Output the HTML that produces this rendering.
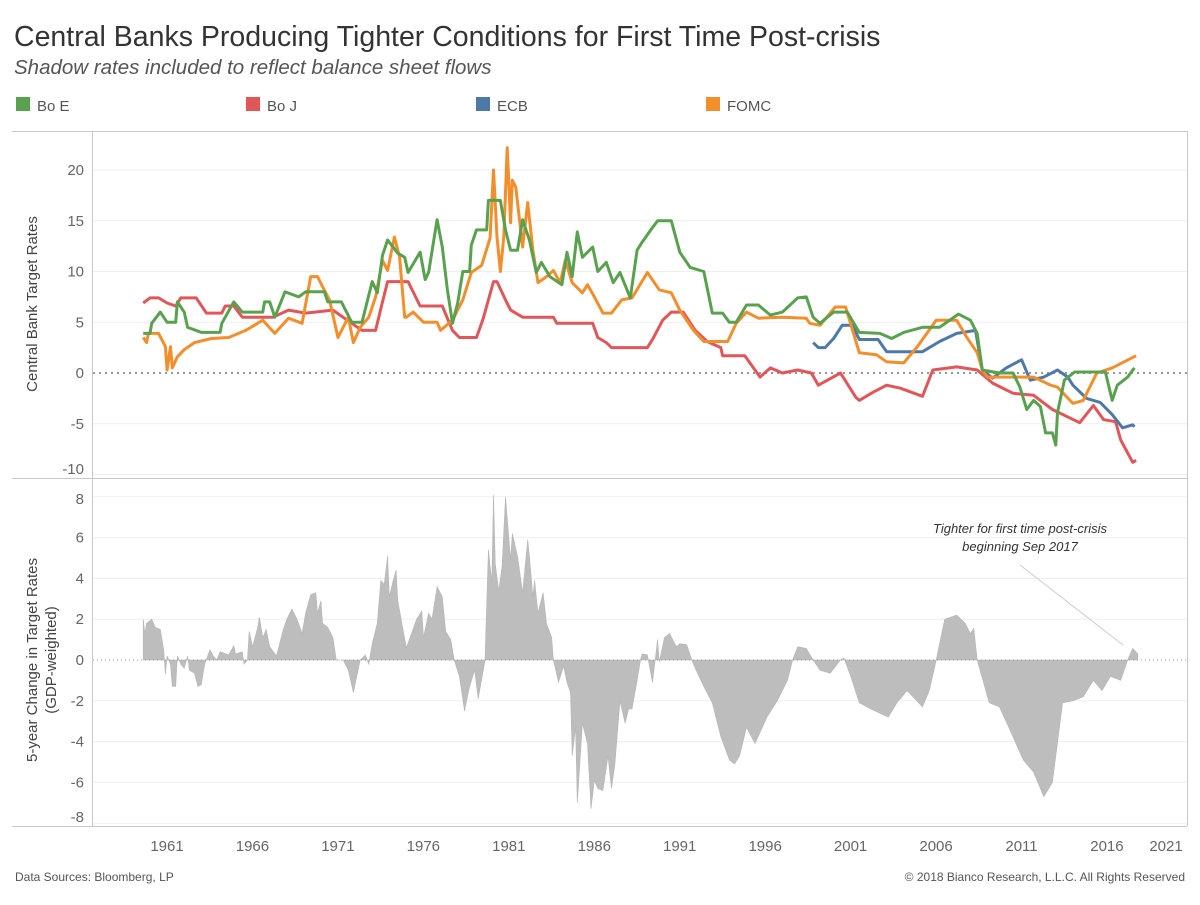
<!DOCTYPE html>
<html><head><meta charset="utf-8">
<style>
html,body{margin:0;padding:0;background:#fff;}
body{width:1200px;height:900px;overflow:hidden;font-family:"Liberation Sans","DejaVu Sans",sans-serif;}
</style></head>
<body>
<svg id="chart" width="1200" height="900" xmlns="http://www.w3.org/2000/svg" font-family="Liberation Sans, DejaVu Sans, sans-serif">
<text x="14" y="46" font-size="28.5" fill="#333">Central Banks Producing Tighter Conditions for First Time Post-crisis</text>
<text x="14" y="74" font-size="20.5" font-style="italic" fill="#555">Shadow rates included to reflect balance sheet flows</text>
<g font-size="15" fill="#555">
 <g><rect x="16" y="97" width="14" height="14" fill="#59a14f"/><text x="37" y="111">Bo E</text></g>
 <g><rect x="246" y="97" width="14" height="14" fill="#e15759"/><text x="267" y="111">Bo J</text></g>
 <g><rect x="476" y="97" width="14" height="14" fill="#4e79a7"/><text x="497" y="111">ECB</text></g>
 <g><rect x="706" y="97" width="14" height="14" fill="#f28e2b"/><text x="727" y="111">FOMC</text></g>
</g>
<g id="grid"></g>
<g id="marks"></g>
<g id="frame" stroke="#c8c8c8" stroke-width="1" fill="none">
 <line x1="12" y1="131.5" x2="1187" y2="131.5"/>
 <line x1="12" y1="478.5" x2="1187" y2="478.5"/>
 <line x1="12" y1="826.5" x2="1187" y2="826.5"/>
 <line x1="92.5" y1="131" x2="92.5" y2="826"/>
 <line x1="1187.5" y1="131" x2="1187.5" y2="826"/>
</g>
<g id="axes" font-size="15" fill="#666"></g>
<text transform="translate(37,304) rotate(-90)" text-anchor="middle" font-size="15" fill="#444">Central Bank Target Rates</text>
<text transform="translate(37,660) rotate(-90)" text-anchor="middle" font-size="15" fill="#444">5-year Change in Target Rates</text>
<text transform="translate(56,660) rotate(-90)" text-anchor="middle" font-size="15" fill="#444">(GDP-weighted)</text>
<g font-size="13" font-style="italic" fill="#333" text-anchor="middle">
 <text x="1020" y="533">Tighter for first time post-crisis</text>
 <text x="1020" y="551">beginning Sep 2017</text>
 <line x1="1020" y1="565" x2="1123" y2="645" stroke="#ccc" stroke-width="1"/>
</g>
<text x="15" y="881" font-size="12" fill="#555">Data Sources: Bloomberg, LP</text>
<text x="1185" y="881" font-size="12" fill="#555" text-anchor="end">© 2018 Bianco Research, L.L.C. All Rights Reserved</text>
</svg>
<script>
const xTicks=[1961,1966,1971,1976,1981,1986,1991,1996,2001,2006,2011,2016,2021];
const topTicks=[20,15,10,5,0,-5,-10];
const botTicks=[8,6,4,2,0,-2,-4,-6,-8];

const boeYears=[1959.9,1960.3,1960.4,1960.9,1961.3,1961.8,1961.9,1962.3,1962.5,1963.3,1964.4,1964.5,1965.2,1965.7,1966.9,1967.0,1967.3,1967.6,1968.2,1969.0,1969.4,1970.5,1970.7,1971.5,1972.1,1972.7,1973.0,1973.3,1973.6,1973.9,1974.2,1974.8,1975.2,1975.4,1976.1,1976.4,1976.6,1977.1,1977.4,1977.7,1978.0,1978.3,1978.6,1979.0,1979.1,1979.4,1980.0,1980.1,1980.8,1980.9,1981.1,1981.4,1981.8,1982.1,1982.5,1982.9,1983.2,1983.7,1984.4,1984.7,1985.0,1985.3,1985.6,1986.2,1986.5,1987.0,1987.4,1987.8,1988.4,1988.8,1989.1,1989.6,1990.0,1990.8,1991.3,1991.9,1992.7,1993.2,1993.8,1994.2,1994.6,1995.2,1995.9,1996.6,1997.3,1998.2,1998.7,1999.1,1999.5,2000.3,2001.1,2001.8,2003.0,2003.7,2004.4,2005.5,2006.5,2007.6,2008.3,2008.7,2009.0,2010.0,2010.8,2011.2,2011.6,2012.0,2012.4,2012.7,2013.1,2013.3,2013.4,2013.8,2014.4,2016.2,2016.6,2016.9,2017.5,2017.9];
const boeValues=[3.9,3.9,4.9,6.0,5.0,5.0,7.0,6.0,4.5,4.0,4.0,4.9,7.0,6.0,6.0,7.0,7.0,5.5,8.0,7.5,8.0,8.0,7.0,7.0,5.0,5.0,7.0,9.0,7.9,11.6,13.1,11.8,11.4,9.9,11.9,9.2,9.9,15.1,12.4,8.2,4.9,6.9,10,10,12.6,14.1,14.1,17,17,16,14.1,12.1,12.1,15.1,13.1,9.9,10.9,9.5,8.7,11.9,9.5,13.9,11.4,12.4,10,10.9,8.9,9.9,7.4,12.1,12.9,14.1,15,15,11.9,10.4,10,5.9,5.9,5,5,6.7,6.7,5.7,6,7.4,7.5,5.5,4.9,6,6,4,3.9,3.4,4,4.5,4.5,5.8,5.2,3.9,0.3,0,0,-1.4,-3.6,-2.7,-3.3,-5.9,-5.9,-7.1,-3.9,-0.7,0.1,0.1,-2.7,-1.2,-0.4,0.5];

const bojYears=[1959.9,1960.3,1960.8,1961.3,1961.8,1962.1,1963.0,1963.6,1964.5,1964.7,1965.2,1965.7,1967.5,1968.4,1969.4,1971.0,1972.1,1972.7,1973.5,1973.9,1974.2,1975.4,1976.1,1977.4,1978.0,1978.4,1979.4,1979.8,1980.4,1980.6,1981.1,1981.4,1982.1,1983.9,1984.1,1986.2,1986.5,1987.0,1987.3,1989.4,1989.7,1990.3,1990.8,1991.5,1992.2,1992.9,1993.7,1993.8,1995.1,1996.0,1996.6,1997.3,1998.2,1999.0,1999.4,2000.7,2001.6,2001.8,2002.6,2003.4,2004.2,2005.5,2006.1,2007.5,2008.7,2009.6,2010.8,2012.0,2013.1,2014.7,2015.5,2016.1,2016.8,2017.1,2017.8,2018.0];
const bojValues=[6.9,7.4,7.4,6.9,6.6,7.4,7.4,5.9,5.9,6.6,6.6,5.5,5.5,6.2,5.9,6.2,4.9,4.2,4.2,7,9,9,6.6,6.6,4.2,3.5,3.5,5.4,9,9,7.2,6.2,5.5,5.5,4.9,4.9,3.5,3,2.5,2.5,3.3,5.2,6,6,4.2,3.1,2.5,1.7,1.7,-0.4,0.5,0,0.3,0,-1.2,0,-2.4,-2.7,-1.9,-1.2,-1.5,-2.3,0.3,0.6,0.3,-1,-2,-2.2,-3.6,-4.9,-3.2,-4.6,-4.8,-6.6,-8.8,-8.6];

const ecbYears=[1999.1,1999.4,1999.8,2000.3,2000.8,2001.4,2001.8,2002.9,2003.4,2005.5,2006.5,2007.5,2008.6,2009.0,2009.6,2010.4,2011.3,2011.8,2012.6,2013.4,2014.0,2014.3,2015.1,2015.9,2016.6,2017.2,2017.8,2017.9];
const ecbValues=[3.0,2.5,2.5,3.4,4.7,4.7,3.3,3.3,2.1,2.1,3.1,3.9,4.2,0.3,-0.5,0.5,1.3,-0.7,-0.4,0.3,-0.4,-1.2,-2.5,-2.9,-4.1,-5.4,-5.1,-5.3];

const fomcYears=[1959.9,1960.1,1960.2,1960.8,1961.2,1961.3,1961.5,1961.6,1961.9,1962.3,1962.9,1963.9,1964.9,1965.9,1966.9,1967.6,1968.4,1969.2,1969.7,1970.1,1970.4,1970.8,1971.3,1971.9,1972.2,1972.6,1973.1,1973.5,1973.9,1974.2,1974.6,1974.9,1975.2,1975.3,1975.7,1976.3,1977.1,1977.3,1978.0,1978.6,1979.1,1979.7,1980.2,1980.4,1980.6,1980.8,1981.0,1981.2,1981.4,1981.5,1981.7,1982.1,1982.4,1982.7,1983.0,1983.5,1983.9,1984.3,1984.6,1985.0,1985.6,1985.9,1986.3,1986.8,1987.3,1987.9,1988.5,1989.4,1990.1,1990.8,1991.3,1992.1,1992.7,1994.1,1994.6,1995.2,1995.9,1997.3,1998.7,1998.9,1999.5,2000.4,2001.0,2001.8,2002.8,2003.4,2004.4,2005.2,2006.3,2007.5,2008.1,2008.7,2009.0,2009.3,2012.0,2013.0,2013.4,2014.3,2014.9,2015.7,2016.6,2018.0];
const fomcValues=[3.5,3,3.9,3.9,2.6,0.3,2.6,0.5,1.6,2.3,3,3.4,3.5,4.2,5.2,3.9,5.4,4.9,9.5,9.5,8.5,7.2,3.5,5.5,3,4.5,5.5,7.5,11.1,10.1,13.4,11.4,5.5,5.5,6,5,5,4.2,5.2,7.2,9.9,10.6,13.3,20,13.4,10,13.4,22.2,14.8,19,18.3,12.4,16.8,12.1,8.9,9.5,10.1,8.9,11.1,8.9,7.9,8.7,7.5,5.9,5.9,7.2,7.4,9.9,8.2,7.9,6.2,4.2,3.1,3.1,4.9,6,5.4,5.5,5.4,4.9,4.7,6.5,6.5,2,1.8,1.1,1,2.6,5.2,5.2,3.5,2,0.3,-0.4,-0.4,-1.2,-1.4,-3,-2.7,0,0.5,1.7];

const chgYears=[1959.9,1959.9,1960.0,1960.1,1960.4,1960.6,1960.9,1961.1,1961.2,1961.3,1961.5,1961.6,1961.8,1961.9,1962.1,1962.3,1962.5,1962.6,1962.9,1963.1,1963.3,1963.5,1963.8,1964.0,1964.2,1964.4,1964.9,1965.2,1965.3,1965.7,1965.8,1966.0,1966.1,1966.3,1966.6,1966.7,1966.9,1967.1,1967.3,1967.7,1968.1,1968.3,1968.6,1968.9,1969.2,1969.4,1969.7,1970.0,1970.1,1970.3,1970.4,1970.7,1971.0,1971.2,1971.6,1971.9,1972.2,1972.6,1972.9,1973.1,1973.3,1973.6,1973.8,1974.0,1974.2,1974.3,1974.5,1974.7,1974.8,1975.1,1975.3,1975.6,1975.9,1976.2,1976.3,1976.6,1976.8,1977.1,1977.4,1977.6,1977.9,1978.1,1978.4,1978.7,1979.0,1979.3,1979.5,1979.8,1979.9,1980.1,1980.3,1980.4,1980.5,1980.7,1980.9,1981.1,1981.4,1981.5,1981.8,1982.1,1982.4,1982.5,1982.7,1982.8,1983.0,1983.3,1983.5,1983.8,1983.9,1984.2,1984.5,1984.7,1984.9,1985.0,1985.2,1985.3,1985.6,1985.9,1986.1,1986.3,1986.5,1986.8,1987.1,1987.3,1987.5,1987.8,1988.1,1988.3,1988.5,1988.8,1989.0,1989.1,1989.4,1989.7,1990.0,1990.1,1990.4,1990.7,1991.1,1991.3,1991.7,1992.0,1992.2,1992.7,1993.2,1993.7,1994.2,1994.5,1994.8,1995.2,1995.7,1996.4,1997.0,1997.6,1997.9,1998.2,1998.7,1999.1,1999.5,2000.1,2000.7,2000.9,2001.3,2001.8,2002.6,2003.5,2004.0,2004.6,2005.5,2005.9,2006.3,2006.8,2007.5,2008.0,2008.3,2008.5,2008.7,2009.4,2010.0,2010.6,2011.4,2012.0,2012.6,2013.1,2013.7,2014.3,2014.9,2015.5,2016.0,2016.5,2017.1,2017.5,2017.8,2018.1,2018.1];
const chgValues=[0,2.0,1.3,1.8,2.0,1.6,1.5,0.5,-0.7,0.2,-0.2,-1.3,-1.3,0.2,-0.2,-0.4,0.2,-0.5,-0.65,-1.3,-1.2,-0.2,0.5,0.2,0,0.4,0.25,0.7,0.3,0.4,-0.2,0,1.4,0.65,1.6,2.1,1.1,1.5,0.65,0.2,1.5,2.0,2.5,2.0,1.3,2.3,3.2,3.3,2.3,2.9,1.8,1.6,1.1,0,0,-0.5,-1.6,0,0.25,-0.2,0.8,1.8,3.9,3.7,5.1,3.1,3.8,4.4,2.9,1.5,0.6,1.3,2.0,2.4,1.1,2.3,2.0,3.6,3.1,1.4,1.0,0,-0.8,-2.5,-1.3,-0.5,-1.9,-0.5,0,5.4,3.8,8.1,4.7,3.4,4.6,8.0,4.9,6.2,5.1,3.3,5.9,5.1,3.1,3.9,2.3,3.3,1.8,1.1,0,-1.1,-0.3,-1.1,-1.6,-4.7,-3.3,-7.0,-3.1,-4.1,-7.3,-5.9,-6.3,-6.4,-4.7,-6.3,-5.1,-2.0,-3.1,-2.4,-2.4,-1.0,0,0.3,0.25,-1.1,1.0,-0.1,1.1,1.3,0.65,0.8,0.75,0,-0.4,-1.3,-2.1,-3.75,-4.9,-5.1,-4.7,-3.3,-4.1,-2.8,-2.0,-1.0,0,0.65,0.57,0,-0.5,-0.65,0,0.1,-0.8,-2.1,-2.45,-2.8,-2.1,-1.5,-2.3,-1.5,0,2.0,2.2,1.8,1.3,1.55,0,-2.1,-2.3,-3.4,-4.9,-5.5,-6.7,-6.0,-2.1,-2.0,-1.8,-1.0,-1.5,-0.8,-1.0,0,0.57,0.3,0];

const NS="http://www.w3.org/2000/svg";
const X0=162, PXY=17.09;
function x(yr){return X0+(yr-1961)*PXY;}
function yTop(v){return 373-v*10.15;}
function yBot(v){return 660-v*20.4;}
function mk(tag,attrs,parent){const e=document.createElementNS(NS,tag);for(const k in attrs)e.setAttribute(k,attrs[k]);parent.appendChild(e);return e;}
const grid=document.getElementById('grid'),marks=document.getElementById('marks'),axes=document.getElementById('axes');

topTicks.forEach(t=>{
  if(t!==0){const g=mk('line',{x1:93,x2:1187,y1:yTop(t),y2:yTop(t),stroke:'#efefef','stroke-width':1},grid);
  
  }
  const lbl=mk('text',{x:84,y:Math.min(yTop(t),469)+5,'text-anchor':'end'},axes);
  lbl.textContent=t;
  
  
});
botTicks.forEach(t=>{
  if(t!==0){const g=mk('line',{x1:93,x2:1187,y1:yBot(t),y2:yBot(t),stroke:'#efefef','stroke-width':1},grid);
  
  }
  const lbl=mk('text',{x:84,y:Math.max(Math.min(yBot(t),817),499)+5,'text-anchor':'end'},axes);
  lbl.textContent=t;
  
  
});
xTicks.forEach(t=>{
  const lbl=mk('text',{x:Math.min(x(t)+5,1166),y:851,'text-anchor':'middle'},axes);
  lbl.textContent=t;
  
  
});

let d='M'+x(chgYears[0])+','+yBot(0);
chgYears.forEach((yr,i)=>{d+=' L'+x(yr).toFixed(1)+','+yBot(chgValues[i]).toFixed(1);});
d+=' L'+x(chgYears[chgYears.length-1])+','+yBot(0)+' Z';
const area=mk('path',{d:d,fill:'#bdbdbd',stroke:'#b5b5b5','stroke-width':0.6},marks);


const z2=mk('line',{x1:93,x2:1187,y1:yBot(0),y2:yBot(0),stroke:'#999','stroke-width':1,'stroke-dasharray':'1,3'},marks);



const z1=mk('line',{x1:93,x2:1187,y1:yTop(0),y2:yTop(0),stroke:'#999','stroke-width':2,'stroke-dasharray':'2,4'},marks);



function line(years,vals,color,name){
  let p='';
  years.forEach((yr,i)=>{p+=(i?' L':'M')+x(yr).toFixed(1)+','+yTop(vals[i]).toFixed(1);});
  const e=mk('path',{d:p,fill:'none',stroke:color,'stroke-width':3,'stroke-linejoin':'round'},marks);
  
  
}
line(bojYears,bojValues,'#e15759','boj-line');
line(ecbYears,ecbValues,'#4e79a7','ecb-line');
line(fomcYears,fomcValues,'#f28e2b','fomc-line');
line(boeYears,boeValues,'#59a14f','boe-line');
</script>
</body></html>
